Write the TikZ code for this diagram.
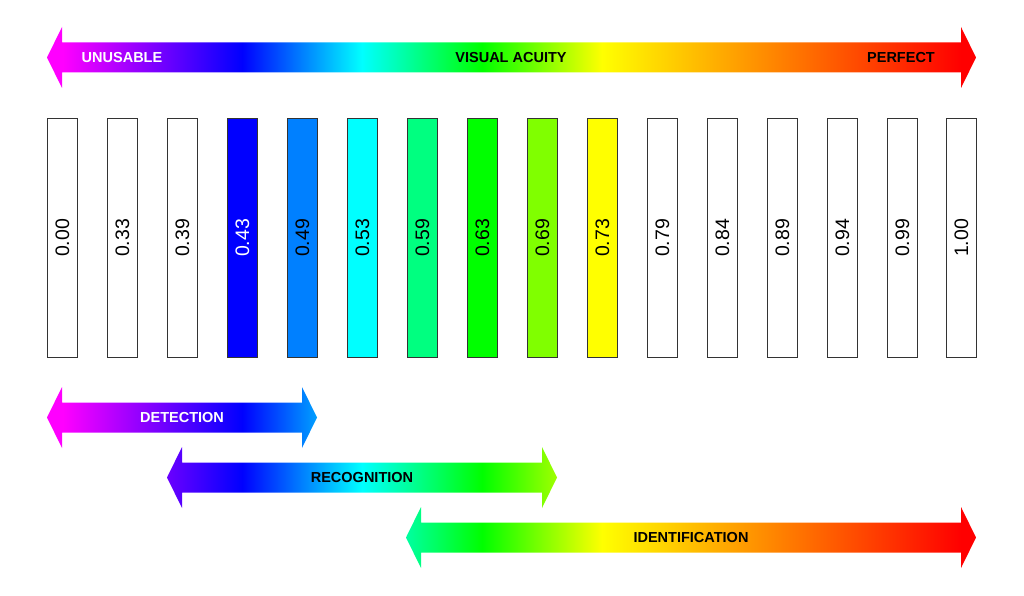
\documentclass[tikz,border=0pt]{standalone}
\usepackage{fontspec}
\setmainfont{Liberation Sans}
\definecolor{hmag}{rgb}{1,0,1}
\definecolor{hblue}{rgb}{0,0,1}
\definecolor{hazure}{rgb}{0,0.5,1}
\definecolor{hcyan}{rgb}{0,1,1}
\definecolor{hspring}{rgb}{0,1,0.5}
\definecolor{hgreen}{rgb}{0,1,0}
\definecolor{hchart}{rgb}{0.5,1,0}
\definecolor{hyellow}{rgb}{1,1,0}
\definecolor{hred}{rgb}{1,0,0}
\definecolor{barline}{rgb}{0.2,0.2,0.2}
\pgfdeclarehorizontalshading{huebar}{100bp}{color(0bp)=(hmag); color(25.86bp)=(hmag); color(35.50bp)=(hblue); color(38.72bp)=(hazure); color(41.95bp)=(hcyan); color(45.18bp)=(hspring); color(48.41bp)=(hgreen); color(51.64bp)=(hchart); color(54.87bp)=(hyellow); color(74.19bp)=(hred); color(100bp)=(hred)}
\newcommand\huearrow[3]{%
  \begin{scope}
    \clip (#1,#3) -- (#1+15,#3-30.5) -- (#1+15,#3-15) -- (#2-15,#3-15) -- (#2-15,#3-30.5) -- (#2,#3)
      -- (#2-15,#3+30.5) -- (#2-15,#3+15) -- (#1+15,#3+15) -- (#1+15,#3+30.5) -- cycle;
    \shade[shading=huebar] (47,#3-32) rectangle (976,#3+32);
  \end{scope}}
\begin{document}
\begin{tikzpicture}[x=1pt,y=-1pt,
  bar/.style={draw=barline, line width=0.9pt, rotate=90, minimum width=239.5pt, minimum height=29.5pt,
    inner sep=0pt, font=\fontsize{19.5}{20}\selectfont},
  lbl/.style={font=\fontsize{14.5}{16}\selectfont\bfseries, inner sep=0pt}]
\useasboundingbox (0,0) rectangle (1024,596);
% arrows
\huearrow{47}{976}{57.5}
\huearrow{47}{317}{417.5}
\huearrow{167}{557}{477.5}
\huearrow{406}{976}{537.5}
\node[lbl, text=white] (unusable) at (122,58) {UNUSABLE};
\node[lbl] (acuity) at (511,58) {VISUAL ACUITY};
\node[lbl] (perfect) at (901,58) {PERFECT};
\node[lbl, text=white] (detection) at (182,418) {DETECTION};
\node[lbl] (recognition) at (362,478) {RECOGNITION};
\node[lbl] (identification) at (691,538) {IDENTIFICATION};
% bars
\node[bar, fill=white] (b0) at (62.5,238) {0.00};
\node[bar, fill=white] (b1) at (122.5,238) {0.33};
\node[bar, fill=white] (b2) at (182.5,238) {0.39};
\node[bar, fill=hblue, text=white] (b3) at (242.5,238) {0.43};
\node[bar, fill=hazure] (b4) at (302.5,238) {0.49};
\node[bar, fill=hcyan] (b5) at (362.5,238) {0.53};
\node[bar, fill=hspring] (b6) at (422.5,238) {0.59};
\node[bar, fill=hgreen] (b7) at (482.5,238) {0.63};
\node[bar, fill=hchart] (b8) at (542.5,238) {0.69};
\node[bar, fill=hyellow] (b9) at (602.5,238) {0.73};
\node[bar, fill=white] (b10) at (662.5,238) {0.79};
\node[bar, fill=white] (b11) at (722.5,238) {0.84};
\node[bar, fill=white] (b12) at (782.5,238) {0.89};
\node[bar, fill=white] (b13) at (842.5,238) {0.94};
\node[bar, fill=white] (b14) at (902.5,238) {0.99};
\node[bar, fill=white] (b15) at (961.5,238) {1.00};
\end{tikzpicture}
\end{document}
